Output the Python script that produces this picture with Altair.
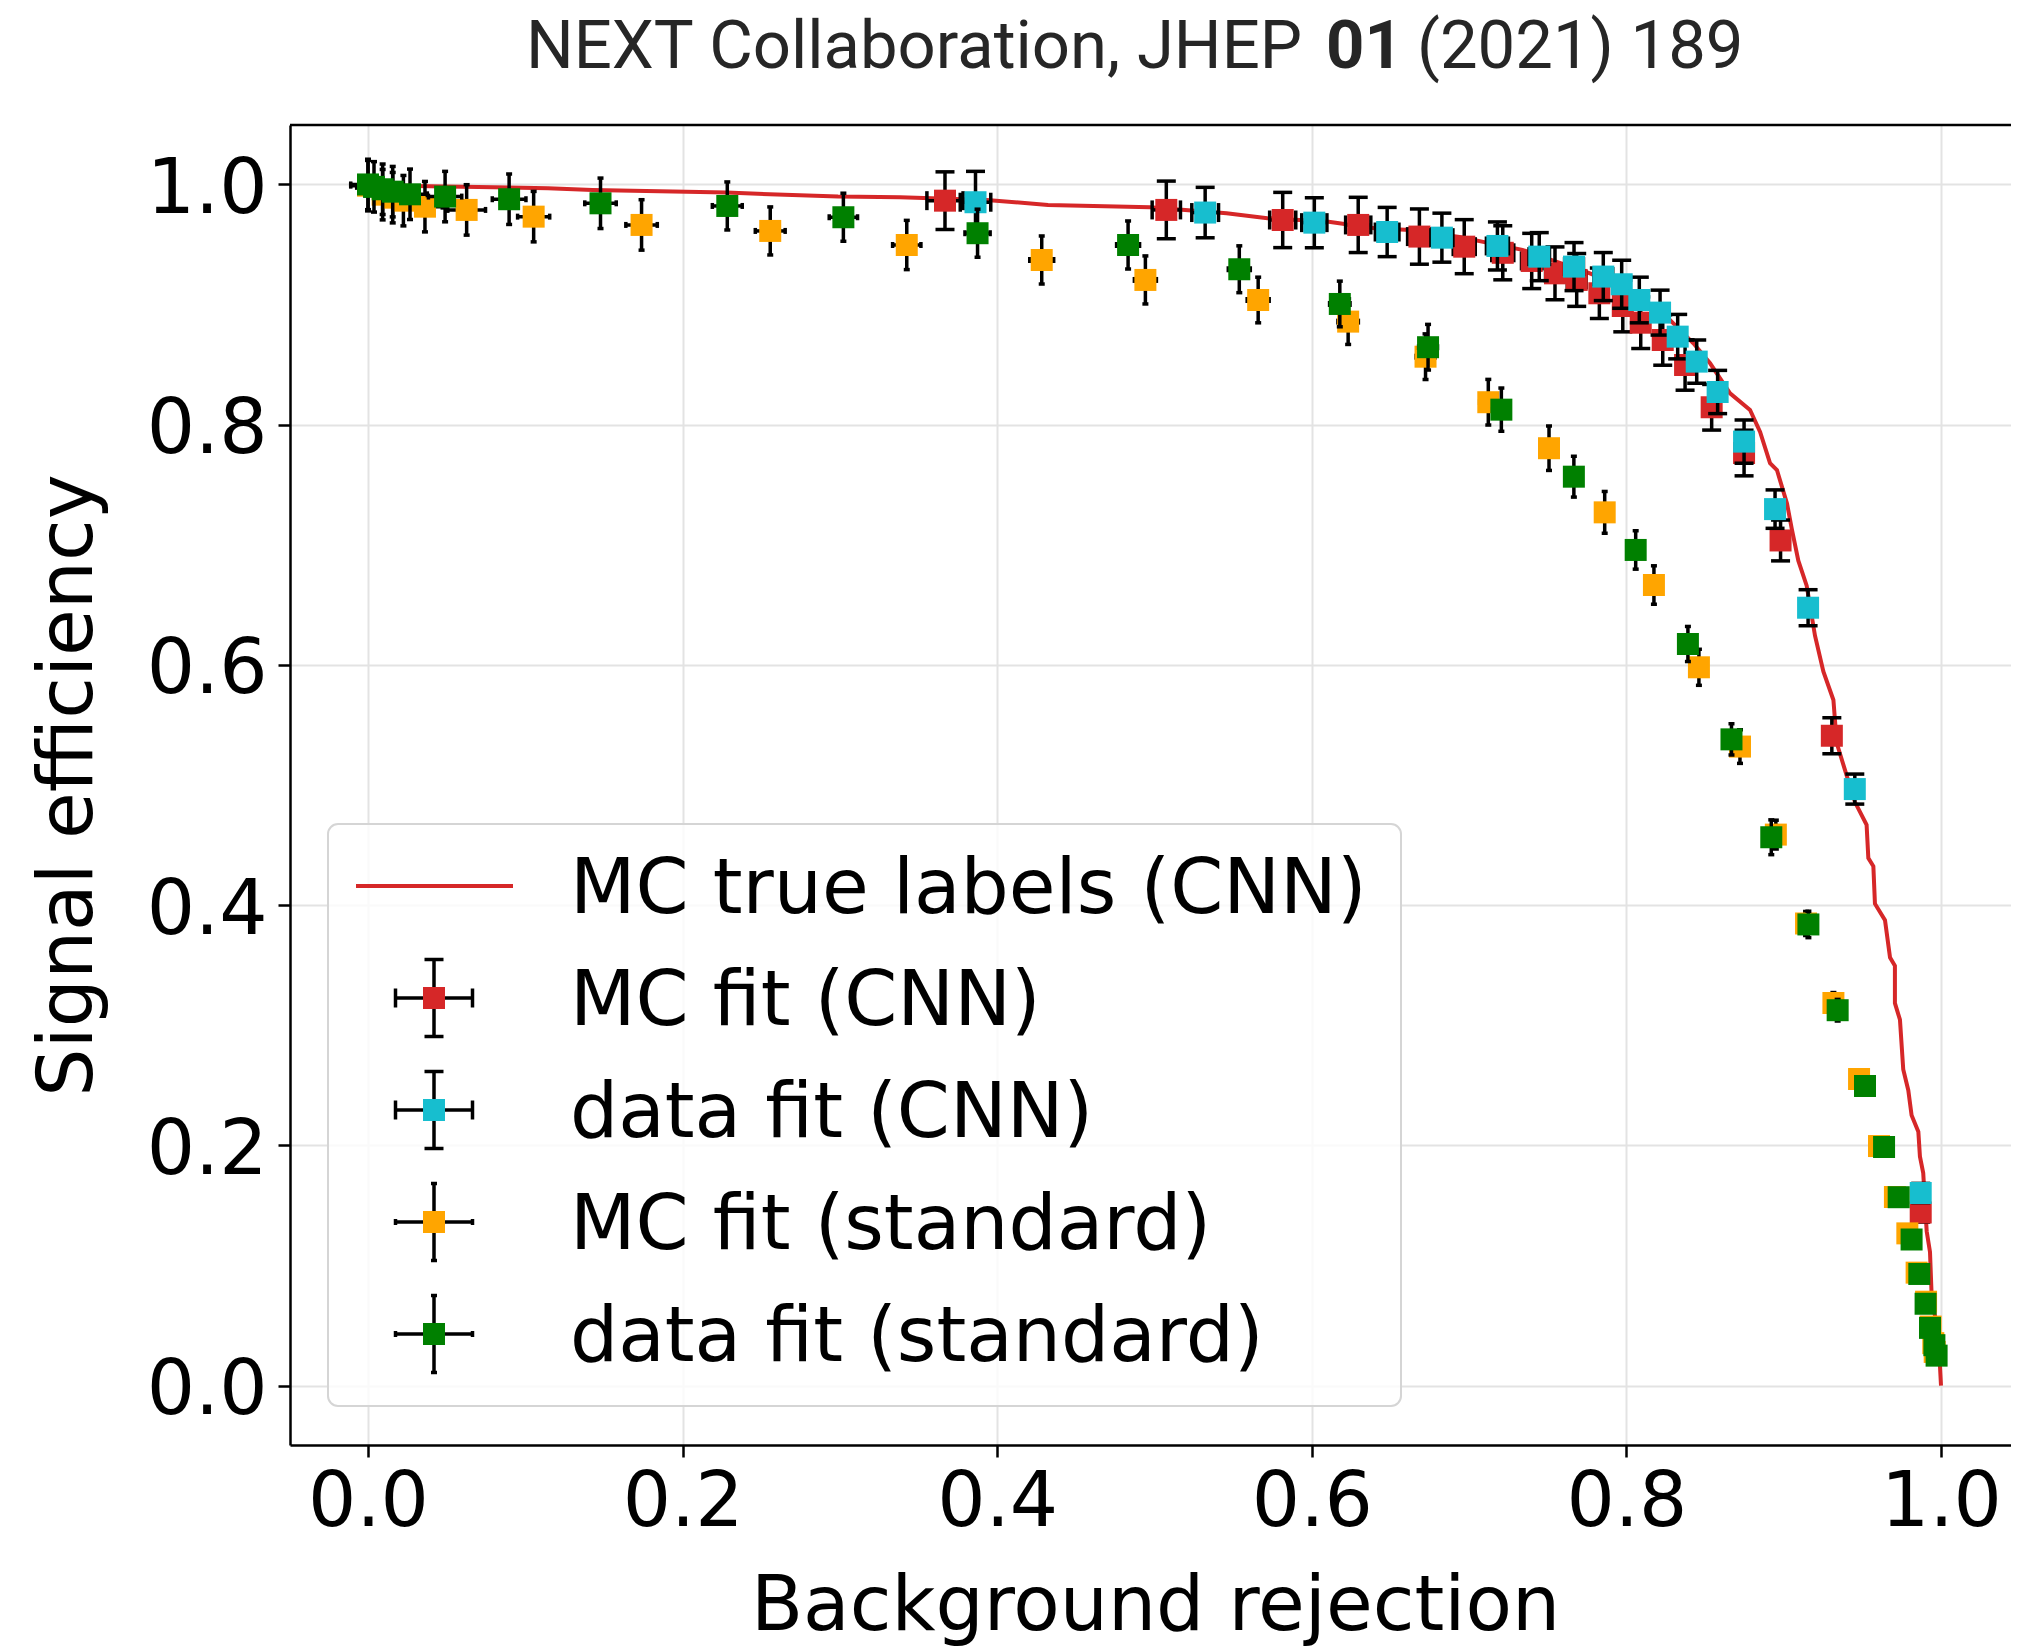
import altair as alt
import pandas as pd

# ---------------- data ----------------
curve_x = [0.0, 0.0292, 0.1144, 0.1427, 0.2279, 0.2988, 0.3382, 0.3933, 0.4323, 0.4972,
           0.5458, 0.5718, 0.6107, 0.6399, 0.6626, 0.695, 0.7112, 0.7339, 0.7768, 0.8023,
           0.8256, 0.8426, 0.8532, 0.8659, 0.8786, 0.885, 0.8913, 0.8957, 0.9021, 0.9051,
           0.9093, 0.9146, 0.9199, 0.9252, 0.9316, 0.9337, 0.940, 0.9453, 0.9527, 0.9538,
           0.957, 0.958, 0.9644, 0.9676, 0.9707, 0.9707, 0.9739, 0.976, 0.9792, 0.9813,
           0.9856, 0.9866, 0.9887, 0.9909, 0.993, 0.9941, 0.9983, 1.0]
curve_y = [1.0, 0.9988, 0.9968, 0.9954, 0.9932, 0.9899, 0.9893, 0.9871, 0.9829, 0.981,
           0.976, 0.9719, 0.969, 0.9635, 0.9621, 0.956, 0.9516, 0.9455, 0.926, 0.9122,
           0.8899, 0.8678, 0.8511, 0.8261, 0.8122, 0.794, 0.7679, 0.7623, 0.7343, 0.7135,
           0.6868, 0.666, 0.6243, 0.5946, 0.5708, 0.535, 0.508, 0.4858, 0.4668, 0.4392,
           0.4323, 0.4012, 0.3874, 0.3564, 0.3495, 0.3184, 0.3046, 0.2631, 0.2459, 0.2251,
           0.2113, 0.1907, 0.1769, 0.1285, 0.1112, 0.0733, 0.0422, 0.0]

mc_cnn_x = [0.3668, 0.5075, 0.5815, 0.6295, 0.6684, 0.6969, 0.7214, 0.7398, 0.7546, 0.7684,
            0.7828, 0.7977, 0.8091, 0.8231, 0.8373, 0.8542, 0.8748, 0.8980, 0.9306, 0.9871]
mc_cnn_y = [0.9865, 0.9788, 0.9704, 0.9663, 0.9566, 0.9482, 0.9431, 0.9363, 0.9260, 0.9205,
            0.9094, 0.8988, 0.8849, 0.8705, 0.8497, 0.8145, 0.7764, 0.7036, 0.5410, 0.1441]
mc_cnn_xerr = [0.0115, 0.009, 0.0083, 0.008, 0.0075, 0.007, 0.007, 0.0065, 0.006, 0.006,
               0.0055, 0.0055, 0.005, 0.005, 0.0045, 0.004, 0.004, 0.0035, 0.003, 0.002]
mc_cnn_yerr = [0.024, 0.024, 0.023, 0.023, 0.023, 0.0225, 0.0225, 0.023, 0.022, 0.022,
               0.021, 0.0215, 0.0215, 0.021, 0.021, 0.019, 0.019, 0.017, 0.015, 0.008]

data_cnn_x = [0.3862, 0.5322, 0.6016, 0.6479, 0.6827, 0.7180, 0.7446, 0.7667, 0.7853, 0.7970,
              0.8082, 0.8214, 0.8326, 0.8447, 0.8580, 0.8748, 0.8945, 0.9155, 0.9452, 0.9871]
data_cnn_y = [0.9852, 0.9766, 0.9682, 0.9604, 0.9557, 0.9488, 0.9399, 0.9316, 0.9233, 0.9169,
              0.9038, 0.8933, 0.8733, 0.8525, 0.8272, 0.7859, 0.7297, 0.6476, 0.4966, 0.1603]
data_cnn_xerr = [0.0097, 0.0085, 0.008, 0.0075, 0.007, 0.007, 0.0065, 0.006, 0.006, 0.0055,
                 0.0055, 0.005, 0.005, 0.0045, 0.0045, 0.004, 0.0035, 0.003, 0.003, 0.002]
data_cnn_yerr = [0.0257, 0.021, 0.0208, 0.0205, 0.0204, 0.020, 0.020, 0.020, 0.020, 0.020,
                 0.019, 0.0187, 0.0185, 0.018, 0.018, 0.018, 0.016, 0.015, 0.0125, 0.008]

mc_std_x = [0.0, 0.0093, 0.0157, 0.0225, 0.0362, 0.0627, 0.1053, 0.1739, 0.2557, 0.3425,
            0.4283, 0.4942, 0.5659, 0.6231, 0.6723, 0.7122, 0.7508, 0.7862, 0.8175, 0.8461,
            0.8722, 0.8950, 0.9142, 0.9316, 0.9479, 0.9606, 0.9707, 0.9786, 0.9845, 0.9905,
            0.9934, 0.9951, 0.9960]
mc_std_y = [0.999, 0.9915, 0.989, 0.9865, 0.9815, 0.9788, 0.9732, 0.9663, 0.9613, 0.9496,
            0.9371, 0.9205, 0.9038, 0.8858, 0.8566, 0.8187, 0.7804, 0.7270, 0.6665, 0.5980,
            0.5320, 0.4587, 0.3847, 0.3185, 0.2552, 0.1994, 0.1570, 0.1267, 0.0940, 0.0698,
            0.0491, 0.0353, 0.0280]
mc_std_xerr = [0.011, 0.011, 0.011, 0.011, 0.011, 0.012, 0.0102, 0.010, 0.0095, 0.009,
               0.0076, 0.007, 0.007, 0.0065, 0.006, 0.0055, 0.005, 0.005, 0.0045, 0.004,
               0.004, 0.0035, 0.003, 0.003, 0.0025, 0.0025, 0.002, 0.002, 0.002, 0.0015,
               0.0015, 0.0015, 0.0015]
mc_std_yerr = [0.021, 0.021, 0.021, 0.021, 0.021, 0.021, 0.021, 0.021, 0.020, 0.0205,
               0.020, 0.020, 0.019, 0.019, 0.019, 0.019, 0.0185, 0.0174, 0.016, 0.015,
               0.014, 0.012, 0.010, 0.0087, 0.007, 0.006, 0.005, 0.005, 0.004, 0.004,
               0.003, 0.003, 0.003]

data_std_x = [0.0, 0.0038, 0.0093, 0.0157, 0.0267, 0.0490, 0.0897, 0.1478, 0.2284, 0.3022,
              0.3875, 0.4832, 0.5539, 0.6178, 0.6739, 0.7205, 0.7666, 0.8059, 0.8391, 0.8668,
              0.8921, 0.9157, 0.9343, 0.9517, 0.9638, 0.9731, 0.9813, 0.9862, 0.9902, 0.9930,
              0.9958, 0.9972]
data_std_y = [1.0, 0.998, 0.996, 0.994, 0.9918, 0.9899, 0.9877, 0.9843, 0.9821, 0.9727,
              0.9594, 0.9496, 0.9294, 0.9005, 0.8645, 0.8125, 0.7567, 0.6957, 0.6174, 0.5380,
              0.4565, 0.3839, 0.3125, 0.2494, 0.1986, 0.1568, 0.1216, 0.0929, 0.0681, 0.0480,
              0.0336, 0.0249]
data_std_xerr = [0.011, 0.011, 0.011, 0.011, 0.011, 0.0106, 0.0107, 0.0100, 0.0095, 0.009,
                 0.008, 0.0073, 0.007, 0.0065, 0.006, 0.0055, 0.005, 0.0045, 0.004, 0.004,
                 0.0035, 0.003, 0.003, 0.0025, 0.0025, 0.002, 0.002, 0.002, 0.0015, 0.0015,
                 0.0015, 0.0015]
data_std_yerr = [0.021, 0.021, 0.021, 0.021, 0.021, 0.021, 0.021, 0.021, 0.020, 0.020,
                 0.020, 0.020, 0.0195, 0.019, 0.019, 0.018, 0.017, 0.016, 0.0146, 0.013,
                 0.0145, 0.011, 0.009, 0.007, 0.006, 0.005, 0.005, 0.004, 0.004, 0.003,
                 0.003, 0.003]

legend_labels = ["MC true labels (CNN)", "MC fit (CNN)", "data fit (CNN)",
                 "MC fit (standard)", "data fit (standard)"]
tick_values = [0.0, 0.2, 0.4, 0.6, 0.8, 1.0]

# ---------------- styling ----------------
RED, CYAN, ORANGE, GREEN = "#d62728", "#17becf", "#ffa500", "#008000"
FONT = "DejaVu Sans"
FS = 76
W, H = 1721, 1320
xs = alt.Scale(domain=[-0.0496, 1.0445], nice=False, zero=False)
ys = alt.Scale(domain=[-0.0495, 1.0495], nice=False, zero=False)

common_axis = dict(values=tick_values, format=".1f", labelFont=FONT, labelFontSize=FS,
                   labelColor="black", labelFlush=False, labelOverlap=False,
                   titleFont=FONT, titleFontSize=FS, titleFontWeight="normal",
                   titleColor="black", titleBaseline="alphabetic", titleAlign="center",
                   tickSize=12, tickWidth=2.5, tickColor="black",
                   domainColor="black", domainWidth=2.5,
                   grid=True, gridColor="#e3e3e3", gridWidth=2)
xaxis = alt.Axis(title="Background rejection", titleX=865, titleY=184, titleAngle=0,
                 labelBaseline="alphabetic", labelPadding=68, labelAlign="center",
                 **common_axis)
yaxis = alt.Axis(title="Signal efficiency", titleX=-199, titleY=660, titleAngle=270,
                 labelBaseline="alphabetic", labelOffset=28, labelPadding=11,
                 labelAlign="right", **common_axis)


def X(f):
    return alt.X(f + ":Q", scale=xs, axis=xaxis)


def Y(f):
    return alt.Y(f + ":Q", scale=ys, axis=yaxis)


layers = []

curve_df = pd.DataFrame({"x": curve_x, "y": curve_y, "i": list(range(len(curve_x)))})
layers.append(
    alt.Chart(curve_df).mark_line(color=RED, strokeWidth=4).encode(
        x=X("x"), y=Y("y"), order="i:Q")
)


def series(xv, yv, xe, ye, color, cap):
    df = pd.DataFrame({"x": xv, "y": yv, "xerr": xe, "yerr": ye})
    df["xlo"] = df["x"] - df["xerr"]
    df["xhi"] = df["x"] + df["xerr"]
    df["ylo"] = df["y"] - df["yerr"]
    df["yhi"] = df["y"] + df["yerr"]
    b = alt.Chart(df)
    out = [
        b.mark_rule(color="black", strokeWidth=3.5).encode(x=X("x"), y=Y("ylo"), y2="yhi:Q"),
        b.mark_rule(color="black", strokeWidth=3.5).encode(x=X("xlo"), x2="xhi:Q", y=Y("y")),
    ]
    for fy in ("ylo", "yhi"):
        out.append(b.mark_tick(orient="horizontal", size=cap, thickness=3.5,
                               color="black", opacity=1).encode(x=X("x"), y=Y(fy)))
    for fx in ("xlo", "xhi"):
        out.append(b.mark_tick(orient="vertical", size=cap, thickness=3.5,
                               color="black", opacity=1).encode(x=X(fx), y=Y("y")))
    out.append(b.mark_square(size=484, color=color, opacity=1, strokeWidth=0)
               .encode(x=X("x"), y=Y("y")))
    return out


layers += series(mc_cnn_x, mc_cnn_y, mc_cnn_xerr, mc_cnn_yerr, RED, 19)
layers += series(data_cnn_x, data_cnn_y, data_cnn_xerr, data_cnn_yerr, CYAN, 19)
layers += series(mc_std_x, mc_std_y, mc_std_xerr, mc_std_yerr, ORANGE, 6)
layers += series(data_std_x, data_std_y, data_std_xerr, data_std_yerr, GREEN, 6)

# ---------------- legend (drawn by hand) ----------------
dummy = alt.Data(values=[{"a": 1}])
layers.append(
    alt.Chart(dummy).mark_rect(fill="white", fillOpacity=0.8, stroke="#d5d5d5",
                               strokeWidth=2, cornerRadius=10).encode(
        x=alt.value(38), x2=alt.value(1111), y=alt.value(699), y2=alt.value(1281))
)
legend_colors = [RED, RED, CYAN, ORANGE, GREEN]
legend_caps = [0, 19, 19, 6, 6]
row0, step = 761, 112
cx, half = 144, 38.5
for i, lab in enumerate(legend_labels):
    ry = row0 + step * i
    if i == 0:
        layers.append(alt.Chart(dummy).mark_rule(color=RED, strokeWidth=4).encode(
            x=alt.value(66), x2=alt.value(223), y=alt.value(ry)))
    else:
        c = legend_caps[i]
        rule = alt.Chart(dummy).mark_rule(color="black", strokeWidth=3.5)
        layers.append(rule.encode(x=alt.value(cx), y=alt.value(ry - half), y2=alt.value(ry + half)))
        layers.append(rule.encode(x=alt.value(cx - half), x2=alt.value(cx + half), y=alt.value(ry)))
        layers.append(rule.encode(x=alt.value(cx - c / 2), x2=alt.value(cx + c / 2), y=alt.value(ry - half)))
        layers.append(rule.encode(x=alt.value(cx - c / 2), x2=alt.value(cx + c / 2), y=alt.value(ry + half)))
        layers.append(rule.encode(x=alt.value(cx - half), y=alt.value(ry - c / 2), y2=alt.value(ry + c / 2)))
        layers.append(rule.encode(x=alt.value(cx + half), y=alt.value(ry - c / 2), y2=alt.value(ry + c / 2)))
        layers.append(alt.Chart(dummy).mark_square(size=484, color=legend_colors[i], opacity=1,
                                                   strokeWidth=0).encode(
            x=alt.value(cx), y=alt.value(ry)))
    layers.append(alt.Chart(dummy).mark_text(font=FONT, fontSize=FS, color="black",
                                             align="left", baseline="alphabetic").encode(
        x=alt.value(280), y=alt.value(ry + 27), text=alt.value(lab)))

# top frame line
layers.append(alt.Chart(dummy).mark_rule(color="black", strokeWidth=2.5).encode(
    x=alt.value(0), x2=alt.value(W), y=alt.value(0)))

# ---------------- title with bold volume number ----------------
tfont = "Roboto"
TS = 67
layers.append(alt.Chart(dummy).mark_text(font=tfont, fontSize=TS, color="#262626",
                                         align="right", baseline="alphabetic").encode(
    x=alt.value(1012), y=alt.value(-57), text=alt.value("NEXT Collaboration, JHEP")))
layers.append(alt.Chart(dummy).mark_text(font=tfont, fontSize=TS, color="#262626",
                                         fontWeight="bold", align="left",
                                         baseline="alphabetic").encode(
    x=alt.value(1036), y=alt.value(-57), text=alt.value("01")))
layers.append(alt.Chart(dummy).mark_text(font=tfont, fontSize=TS, color="#262626",
                                         align="left", baseline="alphabetic").encode(
    x=alt.value(1127), y=alt.value(-57), text=alt.value("(2021) 189")))

chart = alt.layer(*layers).properties(
    width=W, height=H,
    padding={"left": 282, "top": 117, "right": 0, "bottom": 204},
    autosize=alt.AutoSizeParams(type="none"),
).configure_view(stroke=None)

chart.save("out.html", embed_options={"renderer": "svg", "actions": False})
